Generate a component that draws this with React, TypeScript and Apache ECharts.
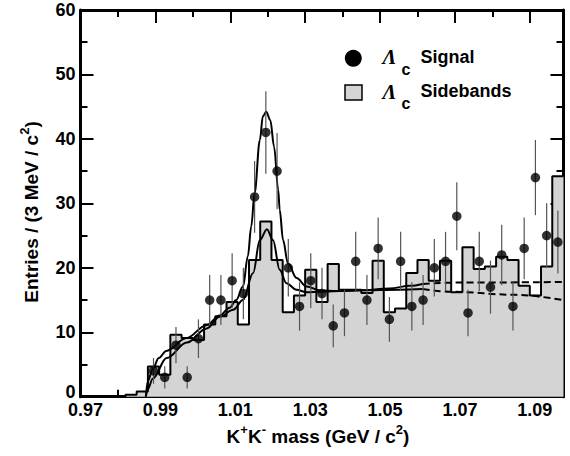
import React, { useEffect, useRef } from "react";
import * as echarts from "echarts";

// ---- binning (GeV) ----
const MASS_LOW = 0.97;
const BIN_WIDTH = 0.003;
const X_SPAN_MEV = 129; // axis from 0.970 to 1.099 GeV

// Sideband histogram, one value per 3 MeV bin starting at 0.970 GeV
const sidebandCounts = [
  0, 0, 0, 0, 0.3, 0.8, 4.7, 3.4, 9.6, 9.1, 8.8, 11.2, 12.5, 14.7, 11.2, 21.2,
  27.2, 21.2, 13.1, 15.7, 19.7, 14.7, 20.6, 16.6, 16.6, 16.1, 21.1, 13.1, 13.7,
  19.2, 21.2, 18.0, 21.1, 16.2, 23.2, 19.8, 20.2, 21.7, 21.2, 17.2, 15.7, 20.2,
  34.2,
];

// Signal entries, first shown bin index
const signalFirstBin = 6;
const signalCounts = [
  4, 3, 8, 3, 9, 15, 15, 18, 16, 31, 41, 35, 20, 14, 18, 16, 11, 13, 21, 15, 23,
  12, 21, 14, 15, 20, 21, 28, 13, 21, 17, 22, 14, 23, 34, 25, 24,
];

// Fit curves: [mass GeV, entries]
const signalFitSolid: [number, number][] = [
  [0.98745, 0], [0.988, 2.4], [0.9893, 4.3], [0.9909, 6.0], [0.9929, 7.1],
  [0.9983, 9.1], [1.0036, 11.1], [1.0072, 12.6], [1.0098, 13.8], [1.0116, 15.0],
  [1.0134, 17.1], [1.0147, 21.8], [1.0156, 26.4], [1.0165, 31.6], [1.0179, 39.8],
  [1.0187, 43.5], [1.0196, 44.2], [1.0207, 42.9], [1.0217, 38.8], [1.0228, 32.1],
  [1.0232, 29.0], [1.0241, 24.3], [1.0254, 20.7], [1.0277, 18.4], [1.0304, 17.1],
  [1.0339, 16.5], [1.0384, 16.4], [1.0446, 16.5], [1.0526, 16.8], [1.058, 17.2],
  [1.0614, 17.5],
];
const sidebandFitSolid: [number, number][] = [
  [0.98745, 0], [0.988, 1.2], [0.9893, 2.8], [0.993, 6.0], [0.9984, 8.4],
  [1.0037, 10.6], [1.0072, 12.4], [1.0108, 13.5], [1.0134, 15.0], [1.0161, 19.2],
  [1.0179, 24.3], [1.0198, 26.0], [1.0214, 24.3], [1.0232, 19.7], [1.025, 17.6],
  [1.0277, 16.6], [1.0304, 16.2], [1.0339, 16.3], [1.0446, 16.5], [1.0553, 16.6],
  [1.0614, 16.7],
];
const signalFitDashed: [number, number][] = [
  [1.0614, 17.5], [1.07, 17.7], [1.0989, 17.8],
];
const sidebandFitDashed: [number, number][] = [
  [1.0614, 16.7], [1.0686, 16.3], [1.0864, 15.8], [1.0989, 15.0],
];

const FONT = "'Liberation Sans', Arial, Helvetica, sans-serif";
const SERIF = "'Liberation Serif', 'DejaVu Serif', serif";

const toMeV = (m: number) => (m - MASS_LOW) * 1000;
const binWidthMeV = BIN_WIDTH * 1000;

export default function App() {
  const ref = useRef<HTMLDivElement>(null);
  useEffect(() => {
    if (!ref.current) return;
    const chart = echarts.init(ref.current, undefined, { renderer: "svg" });

    const histData: number[][] = sidebandCounts.map((v, k) => [k * binWidthMeV, v]);
    histData.push([sidebandCounts.length * binWidthMeV, sidebandCounts[sidebandCounts.length - 1]]);

    const pts = signalCounts.map((v, i) => [
      (signalFirstBin + i) * binWidthMeV + binWidthMeV / 2,
      v,
      Math.sqrt(v),
    ]);

    const curve = (arr: [number, number][]) => arr.map(([m, v]) => [toMeV(m), v]);

    const tickLine = { color: "#000", width: 2 };
    const xBase = {
      type: "value" as const,
      min: 0,
      max: X_SPAN_MEV,
      splitLine: { show: false },
    };
    const xAxes = [
      {
        ...xBase,
        position: "bottom",
        interval: 20,
        axisLine: { show: true, onZero: false, lineStyle: { color: "#000", width: 3 } },
        axisTick: { show: true, inside: true, length: 13, lineStyle: tickLine },
        axisLabel: {
          show: true,
          showMaxLabel: false,
          margin: 4,
          padding: [0, 0, 0, 10],
          color: "#000",
          fontSize: 18,
          fontWeight: "bold",
          fontFamily: FONT,
          formatter: (v: number) => (v >= X_SPAN_MEV ? "" : (MASS_LOW + v / 1000).toFixed(2)),
        },
      },
      {
        ...xBase,
        position: "bottom",
        interval: 10,
        axisLine: { show: false, onZero: false },
        axisTick: { show: true, inside: true, length: 7, lineStyle: tickLine },
        axisLabel: { show: false },
      },
      {
        ...xBase,
        position: "top",
        interval: 20,
        axisLine: { show: true, onZero: false, lineStyle: { color: "#000", width: 3 } },
        axisTick: { show: true, inside: true, length: 13, lineStyle: tickLine },
        axisLabel: { show: false },
      },
      {
        ...xBase,
        position: "top",
        interval: 10,
        axisLine: { show: false, onZero: false },
        axisTick: { show: true, inside: true, length: 7, lineStyle: tickLine },
        axisLabel: { show: false },
      },
    ];
    const yBase = {
      type: "value" as const,
      min: 0,
      max: 60,
      interval: 10,
      splitLine: { show: false },
      axisLine: { show: true, onZero: false, lineStyle: { color: "#000", width: 3 } },
      axisTick: { show: true, inside: true, length: 13, lineStyle: tickLine },
      minorTick: { show: true, splitNumber: 2, length: 7, lineStyle: tickLine },
      minorSplitLine: { show: false },
    };
    const yAxes = [
      {
        ...yBase,
        position: "left",
        axisLabel: {
          show: true,
          margin: 5,
          color: "#000",
          fontSize: 18,
          fontWeight: "bold",
          fontFamily: FONT,
          formatter: (v: number) => (v === 0 ? "{z|0}" : String(v)),
          rich: {
            z: {
              fontSize: 18,
              fontWeight: "bold",
              fontFamily: FONT,
              color: "#000",
              padding: [0, 0, 10, 0],
            },
          },
        },
      },
      { ...yBase, position: "right", axisLabel: { show: false } },
    ];

    const lineSeries = (data: number[][], dashed: boolean) => ({
      type: "line",
      data,
      symbol: "none",
      smooth: 0.35,
      smoothMonotone: "x",
      lineStyle: { color: "#000", width: 2, type: dashed ? [7, 4] : "solid" },
      z: 3,
      silent: true,
    });

    const rich = {
      n: { fontSize: 19, fontWeight: "bold", fontFamily: FONT, lineHeight: 26, fill: "#000", color: "#000" },
      s: { fontSize: 13, fontWeight: "bold", fontFamily: FONT, lineHeight: 13, verticalAlign: "top", fill: "#000", color: "#000" },
    };

    const lambda = (y: number) => ({
      type: "text", x: 382.5, y,
      style: { text: "Λ", fontFamily: SERIF, fontStyle: "italic", fontWeight: "bold", fontSize: 21, fill: "#000", align: "left", verticalAlign: "middle" },
    });
    const sub = (y: number) => ({
      type: "text", x: 401.5, y,
      style: { text: "c", fontFamily: FONT, fontWeight: "bold", fontSize: 16, fill: "#000", align: "left", verticalAlign: "middle" },
    });

    chart.setOption({
      animation: false,
      backgroundColor: "#fff",
      grid: { left: 80.5, right: 6.5, top: 10, bottom: 59.3, containLabel: false },
      xAxis: xAxes,
      yAxis: yAxes,
      series: [
        {
          type: "line",
          data: histData,
          step: "end",
          symbol: "none",
          lineStyle: { color: "#000", width: 2 },
          areaStyle: { color: "#d4d4d4", opacity: 1 },
          z: 1,
          silent: true,
        },
        lineSeries(curve(signalFitSolid), false),
        lineSeries(curve(sidebandFitSolid), false),
        lineSeries(curve(signalFitDashed), true),
        lineSeries(curve(sidebandFitDashed), true),
        {
          type: "custom",
          data: pts,
          encode: { x: 0, y: 1 },
          z: 4,
          silent: true,
          renderItem: (_p: any, api: any) => {
            const x = api.value(0);
            const y = api.value(1);
            const e = api.value(2);
            const a = api.coord([x, y - e]);
            const b = api.coord([x, y + e]);
            return {
              type: "line",
              shape: { x1: a[0], y1: a[1], x2: b[0], y2: b[1] },
              style: { stroke: "#555", lineWidth: 1.2 },
            };
          },
        },
        {
          type: "scatter",
          data: pts.map((p) => [p[0], p[1]]),
          symbol: "circle",
          symbolSize: 9.5,
          itemStyle: { color: "#000" },
          z: 5,
          silent: true,
        },
      ],
      graphic: [
        {
          type: "text",
          x: 318,
          y: 436,
          style: {
            text: "{n|K}{s|+}{n|K}{s|-}{n| mass (GeV / c}{s|2}{n|)}",
            rich,
            align: "center",
            verticalAlign: "middle",
          },
        },
        {
          type: "text",
          x: 31,
          y: 212,
          rotation: Math.PI / 2,
          style: {
            text: "{n|Entries / (3 MeV / c}{s|2}{n|)}",
            rich,
            align: "center",
            verticalAlign: "middle",
          },
        },
        // legend
        { type: "circle", shape: { cx: 353.3, cy: 58.3, r: 8.5 }, style: { fill: "#000" } },
        {
          type: "rect",
          shape: { x: 345, y: 85, width: 17, height: 15 },
          style: { fill: "#d4d4d4", stroke: "#000", lineWidth: 1.5 },
        },
        lambda(57),
        sub(69),
        {
          type: "text", x: 420.5, y: 56.5,
          style: { text: "Signal", fontFamily: FONT, fontWeight: "bold", fontSize: 18, fill: "#000", align: "left", verticalAlign: "middle" },
        },
        lambda(91.5),
        sub(103.5),
        {
          type: "text", x: 420.5, y: 91,
          style: { text: "Sidebands", fontFamily: FONT, fontWeight: "bold", fontSize: 18, fill: "#000", align: "left", verticalAlign: "middle" },
        },
      ],
    });

    return () => chart.dispose();
  }, []);

  return (
    <div
      ref={ref}
      style={{ position: "fixed", left: 0, top: 0, width: 570, height: 456, background: "#fff" }}
    />
  );
}
